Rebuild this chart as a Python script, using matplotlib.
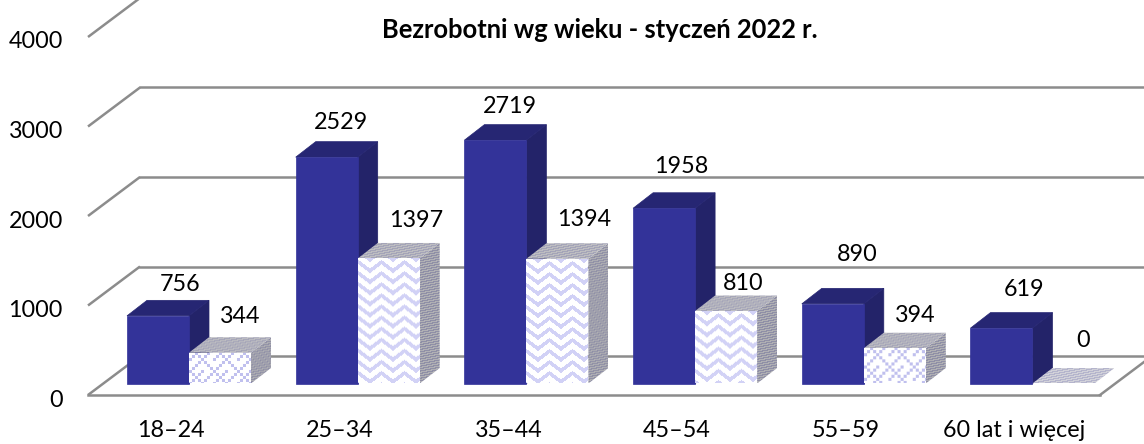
import numpy as np
import matplotlib
matplotlib.use('Agg')
import matplotlib.pyplot as plt
from matplotlib.colors import to_rgb
from matplotlib.patches import Polygon

categories = ['18–24', '25–34', '35–44', '45–54', '55–59', '60 lat i więcej']
series_a = [756, 2529, 2719, 1958, 890, 619]
series_b = [344, 1397, 1394, 810, 394, 0]
y_ticks = [0, 1000, 2000, 3000, 4000]
title = 'Bezrobotni wg wieku - styczeń 2022 r.'

W, H = 1144, 444
PX_X = 168.7        # pixels per category
PX_Y = 0.0895       # pixels per unit
X0, Y0 = 189, 383.5 # pixel position of category 0 / value 0

# label nudges in pixels, labels do not sit evenly in the original
nudge_a_x = [-9, -17, -16, -14, -7, -8]
nudge_a_y = [32, 36, 35, 43, 50, 40]
nudge_b_x = [51, 58, 58, 48, 51, 51]
nudge_b_y = [37, 39, 40, 29, 34, 44]


def dx(px):
    return px / PX_X


def dy(px):
    return px / PX_Y


# weave tile for the short hatched bars, 1 = ink
TILE = np.array([
    [1, 0, 0, 0, 1, 0, 0, 0],
    [0, 1, 0, 1, 0, 0, 0, 1],
    [0, 0, 1, 0, 0, 0, 1, 0],
    [0, 1, 0, 1, 0, 1, 0, 0],
    [1, 0, 0, 0, 1, 0, 0, 0],
    [0, 0, 0, 1, 0, 1, 0, 0],
    [0, 0, 1, 0, 0, 0, 1, 0],
    [0, 1, 0, 0, 0, 0, 0, 1],
])


def pattern(yy, xx, kind):
    if kind == 'dots':
        # tile blown up 3x, blocks nearly touching
        return TILE[(yy // 3 + 2) % 8, (xx // 3) % 8] == 1
    if kind == 'chevron':
        tri = np.abs((xx % 23) - 11.5)
        phase = (yy + 0.75 * tri) % 11
        return phase < 4.5
    # fine weave for the top and side faces
    return ((xx + yy) % 4 < 2) ^ ((xx - yy) % 6 < 2)


def textured(ax, pts, ink, paper, kind):
    # fill polygon with the pattern, clipped to the polygon
    pts = np.array(pts)
    x0, x1 = pts[:, 0].min(), pts[:, 0].max()
    y0, y1 = pts[:, 1].min(), pts[:, 1].max()
    nx = max(int(round((x1 - x0) * PX_X)), 1)
    ny = max(int(round((y1 - y0) * PX_Y)), 1)
    yy, xx = np.mgrid[0:ny, 0:nx]
    mask = pattern(yy, xx, kind)
    img = np.where(mask[..., None], np.array(to_rgb(ink)), np.array(to_rgb(paper)))
    im = ax.imshow(img, extent=(x0, x1, y0, y1), aspect='auto', interpolation='bilinear',
                   origin='upper', zorder=3)
    poly = Polygon(pts, closed=True, transform=ax.transData, fc='none', ec='none')
    ax.add_patch(poly)
    im.set_clip_path(poly)


def faces(x, w, v):
    ox, oy = dx(20), dy(15.5)
    f = [(x, 0), (x + w, 0), (x + w, v), (x, v)]
    t = [(x, v), (x + w, v), (x + w + ox, v + oy), (x + ox, v + oy)]
    s = [(x + w, 0), (x + w + ox, oy), (x + w + ox, v + oy), (x + w, v)]
    return f, t, s


def solid_bar(ax, x, w, v):
    f, t, s = faces(x, w, v)
    ax.add_patch(Polygon(s, fc='#232369', ec='#232369', lw=0.5, zorder=3))
    ax.add_patch(Polygon(t, fc='#262673', ec='#262673', lw=0.5, zorder=3))
    ax.add_patch(Polygon(f, fc='#333399', ec='#333399', lw=0.5, zorder=3))


def hatched_bar(ax, x, w, v):
    f, t, s = faces(x, w, v)
    if v > 0:
        textured(ax, s, '#8f8fa6', '#b0b0b4', 'fine')
        if v < 500:
            textured(ax, f, '#c0c0ee', '#ffffff', 'dots')
        else:
            textured(ax, f, '#d2d2f6', '#ffffff', 'chevron')
        textured(ax, t, '#a4a4b8', '#bebec2', 'fine')
    else:
        textured(ax, t, '#b4b4cc', '#d2d2da', 'fine')


def main():
    plt.rcParams['font.family'] = ['Lato', 'DejaVu Sans']
    fig = plt.figure(figsize=(W / 100, H / 100), dpi=100)
    ax = fig.add_axes([0, 0, 1, 1])

    # walls: front edge of the floor sits 11.5 px under value 0
    left = dx(88 - X0)
    right = dx(1100 - X0)
    low = dy(Y0 - 395)
    bx, by = dx(52), dy(39)
    grid = '#8c8c8c'
    for v in y_ticks:
        ax.plot([left, left + bx], [v + low, v + low + by], color=grid, lw=1.8, zorder=1,
                solid_capstyle='butt')
        ax.plot([left + bx, dx(W - X0) + 1], [v + low + by, v + low + by], color=grid, lw=1.8,
                zorder=1)
        ax.text(dx(63 - X0), v + low - dy(5), str(v), ha='right', va='center', fontsize=16.8)
    ax.plot([left, right], [low, low], color=grid, lw=1.8, zorder=1)
    ax.plot([right, right + bx], [low, low + by], color=grid, lw=1.8, zorder=1)

    w = dx(62)
    for i, cat in enumerate(categories):
        a = series_a[i]
        b = series_b[i]
        solid_bar(ax, i - w, w, a)
        hatched_bar(ax, i, w, b)
        ax.text(i + dx(nudge_a_x[i]), a + dy(nudge_a_y[i] - 1), str(a), ha='center', va='center',
                fontsize=16.8, zorder=5)
        ax.text(i + dx(nudge_b_x[i]), b + dy(nudge_b_y[i] - 1), str(b), ha='center', va='center',
                fontsize=16.8, zorder=5)
        ax.text(i + dx(-18), dy(Y0 - 430), cat, ha='center', va='center', fontsize=16.8)

    ax.text(dx(600 - X0), dy(Y0 - 30), title, ha='center', va='center', fontsize=18.4,
            fontweight='bold')

    ax.set_xlim(-X0 / PX_X, (W - X0) / PX_X)
    ax.set_ylim(-(H - Y0) / PX_Y, Y0 / PX_Y)
    ax.axis('off')
    fig.savefig('out.png', dpi=100, facecolor='white')


if __name__ == '__main__':
    main()
